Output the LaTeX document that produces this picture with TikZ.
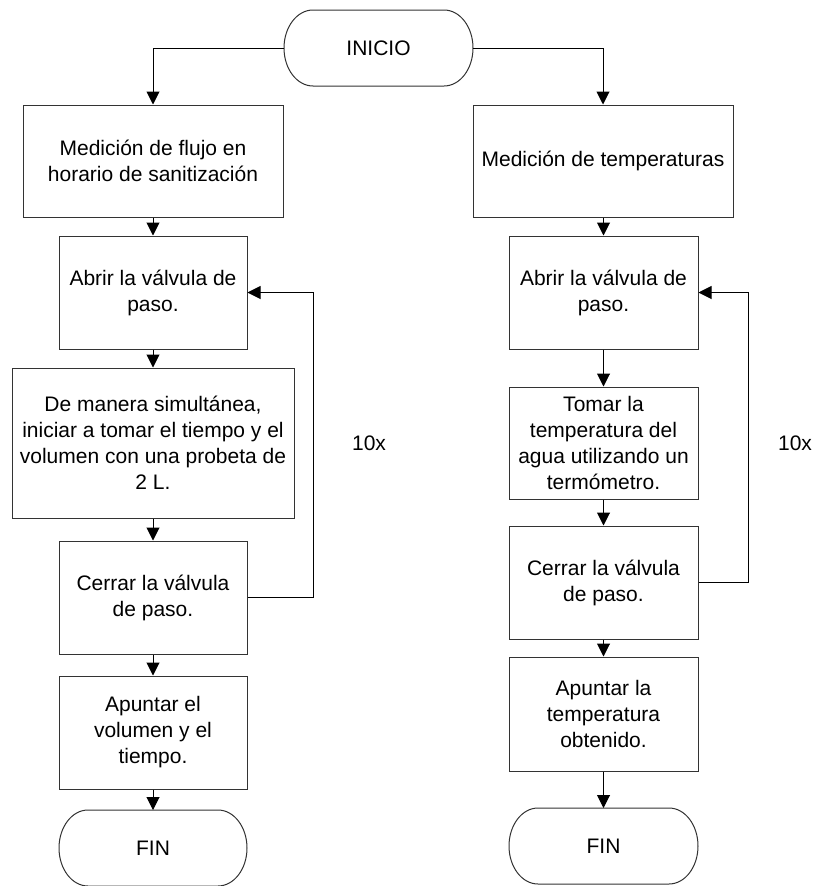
\documentclass[tikz,border=0pt]{standalone}
\usepackage{fontspec}
\setmainfont{Liberation Sans}
\usetikzlibrary{arrows.meta}
\definecolor{boxc}{gray}{0.2}
\newcommand\drawterm[1]{%
  \draw[boxc, line width=1pt]
    ([xshift=29pt]#1.north west) -- ([xshift=-29pt]#1.north east)
    arc[start angle=90, end angle=-90, x radius=29pt, y radius=38pt]
    -- ([xshift=29pt]#1.south west)
    arc[start angle=270, end angle=90, x radius=29pt, y radius=38pt] -- cycle;}
\begin{document}
\begin{tikzpicture}[x=1pt,y=1pt,
  txt/.style={font=\fontsize{21}{26}\selectfont, align=center, inner sep=0pt},
  box/.style={txt, draw=boxc, line width=1pt, fill=white},
  term/.style={txt, outer sep=0pt, minimum width=189pt, minimum height=76pt},
  conn/.style={line width=1pt, draw=black},
  arr/.style={conn, -{Triangle[width=13pt,length=13pt]}}]
\useasboundingbox (0,0) rectangle (812,-886);
\fill[white] (0,0) rectangle (812,-886);

% ---------- nodes ----------
\node[term] (ini) at (378.5,-48) {INICIO};

\node[box, minimum width=260pt, minimum height=112pt] (L1) at (153,-161)
  {Medición de flujo en\\horario de sanitización};
\node[box, minimum width=188pt, minimum height=113pt] (L2) at (153,-292.5)
  {Abrir la válvula de\\paso.};
\node[box, minimum width=282pt, minimum height=150pt] (L3) at (153,-443)
  {De manera simultánea,\\iniciar a tomar el tiempo y el\\volumen con una probeta de\\2 L.};
\node[box, minimum width=188pt, minimum height=113pt] (L4) at (153,-597.5)
  {Cerrar la válvula\\de paso.};
\node[box, minimum width=188pt, minimum height=113pt] (L5) at (153,-732.5)
  {Apuntar el\\volumen y el\\tiempo.};
\node[term, minimum width=188pt] (LF) at (153,-848) {FIN};

\node[box, minimum width=260pt, minimum height=112pt] (R1) at (603,-161)
  {Medición de temperaturas};
\node[box, minimum width=189pt, minimum height=113pt] (R2) at (603.5,-292.5)
  {Abrir la válvula de\\paso.};
\node[box, minimum width=189pt, minimum height=112pt] (R3) at (603.5,-443)
  {Tomar la\\temperatura del\\agua utilizando un\\termómetro.};
\node[box, minimum width=189pt, minimum height=113pt] (R4) at (603.5,-582.5)
  {Cerrar la válvula\\de paso.};
\node[box, minimum width=189pt, minimum height=114pt] (R5) at (603.5,-714)
  {Apuntar la\\temperatura\\obtenido.};
\node[term] (RF) at (603.5,-846) {FIN};

\node[txt] (nL) at (369,-443) {10x};
\node[txt] (nR) at (795,-443) {10x};

\drawterm{ini}
\drawterm{LF}
\drawterm{RF}

% ---------- connectors ----------
\coordinate (lc) at (153,-48);
\coordinate (rc) at (603,-48);
\draw[arr] (ini.west) -- (lc) -- (L1.north);
\draw[arr] (ini.east) -- (rc) -- (R1.north);

\draw[arr] (L1) -- (L2);
\draw[arr] (L2) -- (L3);
\draw[arr] (L3) -- (L4);
\draw[arr] (L4) -- (L5);
\draw[arr] (L5) -- (LF);

\draw[arr] (R1.south -| R2) -- (R2);
\draw[arr] (R2) -- (R3);
\draw[arr] (R3) -- (R4);
\draw[arr] (R4) -- (R5);
\draw[arr] (R5) -- (RF);

\coordinate (lloop) at (313,-597.5);
\coordinate (rloop) at (748,-582.5);
\draw[arr] (L4.east) -- (lloop) |- (L2.east);
\draw[arr] (R4.east) -- (rloop) |- (R2.east);
\end{tikzpicture}
\end{document}
